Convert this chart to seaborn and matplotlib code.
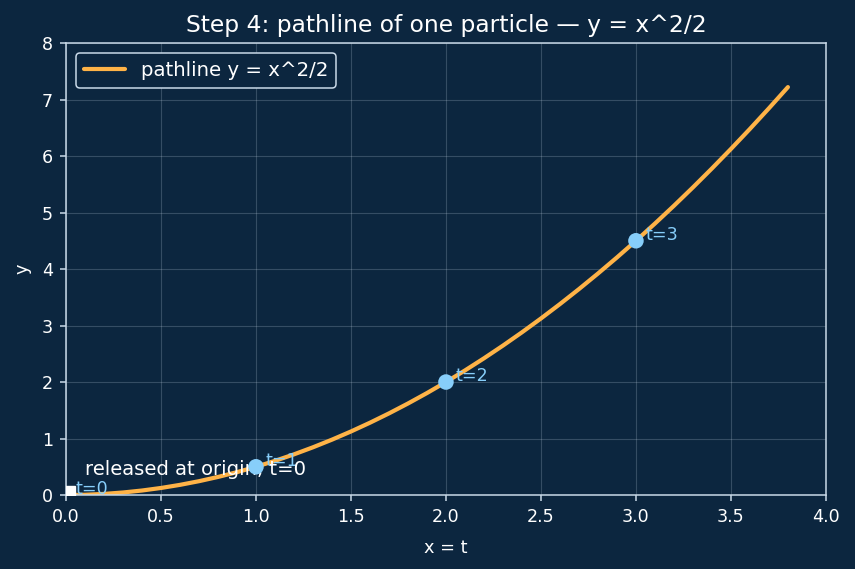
import matplotlib
matplotlib.use("Agg")
import matplotlib.pyplot as plt
import seaborn as sns
import pandas as pd

# ---- data ----
path_x = [0.0, 0.1, 0.2, 0.3, 0.4, 0.5, 0.6, 0.7, 0.8, 0.9, 1.0,
          1.1, 1.2, 1.3, 1.4, 1.5, 1.6, 1.7, 1.8, 1.9, 2.0,
          2.1, 2.2, 2.3, 2.4, 2.5, 2.6, 2.7, 2.8, 2.9, 3.0,
          3.1, 3.2, 3.3, 3.4, 3.5, 3.6, 3.7, 3.8]
path_y = [0.0, 0.005, 0.02, 0.045, 0.08, 0.125, 0.18, 0.245, 0.32, 0.405, 0.5,
          0.605, 0.72, 0.845, 0.98, 1.125, 1.28, 1.445, 1.62, 1.805, 2.0,
          2.205, 2.42, 2.645, 2.88, 3.125, 3.38, 3.645, 3.92, 4.205, 4.5,
          4.805, 5.12, 5.445, 5.78, 6.125, 6.48, 6.845, 7.22]
marker_t = [1, 2, 3]
marker_x = [1.0, 2.0, 3.0]
marker_y = [0.5, 2.0, 4.5]
marker_labels = ["t=1", "t=2", "t=3"]
origin_x = [0.0]
origin_y = [0.0]
origin_label = "t=0"
note_text = "released at origin, t=0"
title_text = "Step 4: pathline of one particle \u2014 y = x^2/2"
line_label = "pathline y = x^2/2"
x_ticks = [0.0, 0.5, 1.0, 1.5, 2.0, 2.5, 3.0, 3.5, 4.0]
y_ticks = [0, 1, 2, 3, 4, 5, 6, 7, 8]

# ---- style ----
BG = "#0c263f"
FG = "#ffffff"
SPINE = "#c9d9e8"
ORANGE = "#ffb347"
BLUE = "#87cefa"

sns.set_theme(style="dark")
plt.rcParams["font.family"] = ["DejaVu Sans"]

fig = plt.figure(figsize=(8.55, 5.69), dpi=100, facecolor=BG)
ax = fig.add_axes([0.0772, 0.130, 0.8888, 0.7944])
ax.set_facecolor(BG)

df_path = pd.DataFrame({"x": path_x, "y": path_y})
sns.lineplot(data=df_path, x="x", y="y", ax=ax, color=ORANGE, linewidth=3.0,
             label=line_label, sort=False, zorder=2)

df_pts = pd.DataFrame({"x": marker_x, "y": marker_y, "t": marker_t})
sns.scatterplot(data=df_pts, x="x", y="y", ax=ax, color=BLUE, s=125,
                edgecolor="none", zorder=5, legend=False)

ax.plot(origin_x, origin_y, marker="s", markersize=13.4, color="white",
        linestyle="none", zorder=6, clip_on=True)

for xv, yv, lab in zip(marker_x, marker_y, marker_labels):
    ax.annotate(lab, (xv, yv), xytext=(7, 4), textcoords="offset points",
                color=BLUE, fontsize=12.6, va="center", ha="left")
ax.annotate(origin_label, (origin_x[0], origin_y[0]), xytext=(7, 4),
            textcoords="offset points", color=BLUE, fontsize=12.6,
            va="center", ha="left")

ax.text(0.1, 0.45, note_text, color=FG, fontsize=14.1, va="center", ha="left")

ax.set_xlim(0, 4)
ax.set_ylim(0, 8)
ax.set_xticks(x_ticks)
ax.set_xticklabels([f"{v:.1f}" for v in x_ticks])
ax.set_yticks(y_ticks)
ax.set_yticklabels([str(v) for v in y_ticks])

ax.set_title(title_text, color=FG, fontsize=16.8, pad=8)
ax.set_xlabel("x = t", color=FG, fontsize=12.8, labelpad=9.5)
ax.set_ylabel("y", color=FG, fontsize=12.8, labelpad=7.5)

ax.tick_params(axis="both", colors=SPINE, labelcolor=FG, labelsize=12.6,
               length=4.4, width=1.1, pad=4.8, direction="out",
               bottom=True, left=True)
for s in ax.spines.values():
    s.set_visible(True)
    s.set_color(SPINE)
    s.set_linewidth(1.1)

ax.grid(True, color="#c9d9e8", alpha=0.22, linewidth=0.8)

leg = ax.legend(loc="upper left", fontsize=14.2, facecolor=BG, edgecolor=SPINE,
                framealpha=1.0, handlelength=2.1)
for t in leg.get_texts():
    t.set_color(FG)
leg.get_frame().set_linewidth(1.1)

fig.savefig("out.png", dpi=100, facecolor=BG)
